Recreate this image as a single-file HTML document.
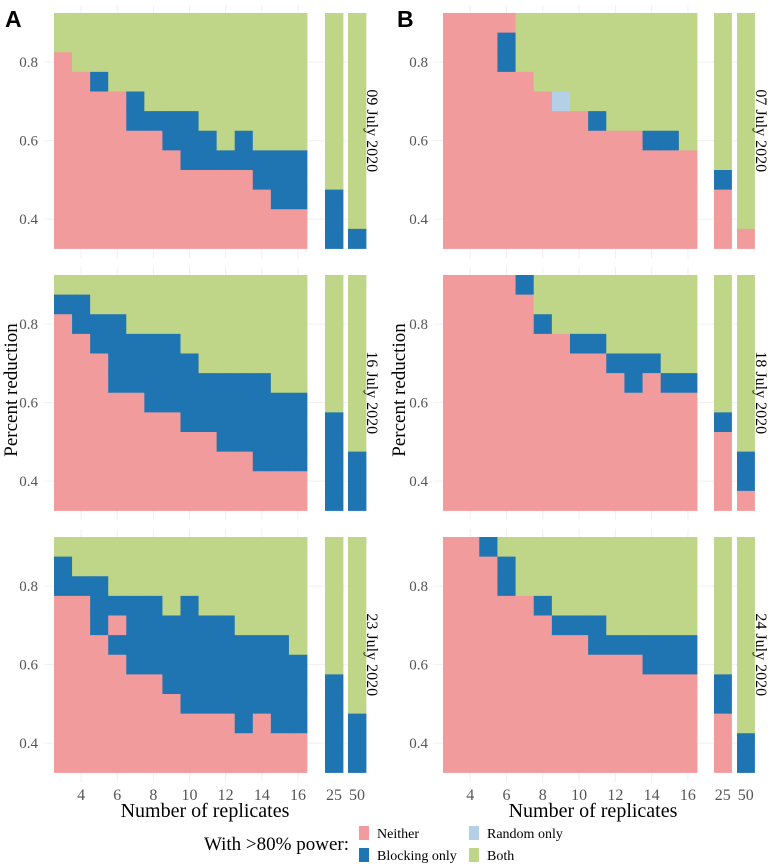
<!DOCTYPE html>
<html><head><meta charset="utf-8">
<style>
body{margin:0;background:#fff;}
svg{display:block;font-family:"Liberation Serif",serif;}
</style></head>
<body>
<svg id="chart" width="771" height="865" viewBox="0 0 771 865" xmlns="http://www.w3.org/2000/svg">
<text x="5" y="27" font-family="Liberation Sans, sans-serif" font-weight="bold" font-size="23">A</text>
<text x="397" y="27" font-family="Liberation Sans, sans-serif" font-weight="bold" font-size="23">B</text>
<text transform="translate(17,390) rotate(-90)" text-anchor="middle" font-size="19">Percent reduction</text>
<text transform="translate(405,390) rotate(-90)" text-anchor="middle" font-size="19">Percent reduction</text>
<text x="205" y="817" text-anchor="middle" font-size="20">Number of replicates</text>
<text x="593" y="817" text-anchor="middle" font-size="20">Number of replicates</text>
<g>
<text x="349" y="850" text-anchor="end" font-size="19">With &gt;80% power:</text>
<rect x="359" y="826" width="10" height="14" fill="#f29b9c"/>
<text x="377" y="838" font-size="14">Neither</text>
<rect x="359" y="848" width="10" height="14" fill="#1f74b2"/>
<text x="377" y="860" font-size="14">Blocking only</text>
<rect x="469" y="826" width="10" height="14" fill="#b3d0e6"/>
<text x="487" y="838" font-size="14">Random only</text>
<rect x="469" y="848" width="10" height="14" fill="#bfd587"/>
<text x="487" y="860" font-size="14">Both</text>
</g>
</svg>
<script>
const replicates = [3,4,5,6,7,8,9,10,11,12,13,14,15,16];
const extraReplicates = [25,50];
const reductions = [0.90,0.85,0.80,0.75,0.70,0.65,0.60,0.55,0.50,0.45,0.40,0.35];
const xTicks = [4,6,8,10,12,14,16];
const yTicks = [0.4,0.6,0.8];
const dates = ["09 July 2020","07 July 2020","16 July 2020","18 July 2020","23 July 2020","24 July 2020"];
// each string: class per reduction level, top (0.90) to bottom (0.35); N=neither B=blocking R=random G=both
const a1 = ["GGNNNNNNNNNN","GGGNNNNNNNNN","GGGBNNNNNNNN","GGGGNNNNNNNN","GGGGBBNNNNNN","GGGGGBNNNNNN","GGGGGBBNNNNN","GGGGGBBBNNNN","GGGGGGBBNNNN","GGGGGGGBNNNN","GGGGGGBBNNNN","GGGGGGGBBNNN","GGGGGGGBBBNN","GGGGGGGBBBNN","GGGGGGGGGBBB","GGGGGGGGGGGB"];
const b1 = ["NNNNNNNNNNNN","NNNNNNNNNNNN","NNNNNNNNNNNN","NBBNNNNNNNNN","GGGNNNNNNNNN","GGGGNNNNNNNN","GGGGRNNNNNNN","GGGGGNNNNNNN","GGGGGBNNNNNN","GGGGGGNNNNNN","GGGGGGNNNNNN","GGGGGGBNNNNN","GGGGGGBNNNNN","GGGGGGGNNNNN","GGGGGGGGBNNN","GGGGGGGGGGGN"];
const a2 = ["GBNNNNNNNNNN","GBBNNNNNNNNN","GGBBNNNNNNNN","GGBBBBNNNNNN","GGGBBBNNNNNN","GGGBBBBNNNNN","GGGBBBBNNNNN","GGGGBBBBNNNN","GGGGGBBBNNNN","GGGGGBBBBNNN","GGGGGBBBBNNN","GGGGGBBBBBNN","GGGGGGBBBBNN","GGGGGGBBBBNN","GGGGGGGBBBBB","GGGGGGGGGBBB"];
const b2 = ["NNNNNNNNNNNN","NNNNNNNNNNNN","NNNNNNNNNNNN","NNNNNNNNNNNN","BNNNNNNNNNNN","GGBNNNNNNNNN","GGGNNNNNNNNN","GGGBNNNNNNNN","GGGBNNNNNNNN","GGGGBNNNNNNN","GGGGBBNNNNNN","GGGGBNNNNNNN","GGGGGBNNNNNN","GGGGGBNNNNNN","GGGGGGGBNNNN","GGGGGGGGGBBN"];
const a3 = ["GBBNNNNNNNNN","GGBNNNNNNNNN","GGBBBNNNNNNN","GGGBNBNNNNNN","GGGBBBBNNNNN","GGGBBBBNNNNN","GGGGBBBBNNNN","GGGBBBBBBNNN","GGGGBBBBBNNN","GGGGBBBBBNNN","GGGGGBBBBBNN","GGGGGBBBBNNN","GGGGGBBBBBNN","GGGGGGBBBBNN","GGGGGGGBBBBB","GGGGGGGGGBBB"];
const b3 = ["NNNNNNNNNNNN","NNNNNNNNNNNN","BNNNNNNNNNNN","GBBNNNNNNNNN","GGGNNNNNNNNN","GGGBNNNNNNNN","GGGGBNNNNNNN","GGGGBNNNNNNN","GGGGBBNNNNNN","GGGGGBNNNNNN","GGGGGBNNNNNN","GGGGGBBNNNNN","GGGGGBBNNNNN","GGGGGBBNNNNN","GGGGGGGBBNNN","GGGGGGGGGGBB"];
const panelData = [a1,b1,a2,b2,a3,b3];

const colors = {N:"#f29b9c",B:"#1f74b2",R:"#b3d0e6",G:"#bfd587"};
const names = {N:"neither",B:"blocking-only",R:"random-only",G:"both"};
const NS = "http://www.w3.org/2000/svg";
const svg = document.getElementById('chart');
const rowTops = [13,275,537];
const PH = 235.5;
const colLefts = [{main:54,w:253,s1:325,s2:348,sw:18,lab:372,tick:38},{main:443,w:254,s1:714,s2:737,sw:17.5,lab:761,tick:428}];
function mk(tag, attrs, parent){const e=document.createElementNS(NS,tag);for(const k in attrs)e.setAttribute(k,attrs[k]);(parent||svg).appendChild(e);return e;}
function yScale(top,v){return top + (0.925 - v)/0.6*PH;}
function xScale(L,r){return L.main + (r - 2.5)/14*L.w;}

panelData.forEach((pd,pi)=>{
  const row = Math.floor(pi/2), L = colLefts[pi%2], top = rowTops[row];
  const g = mk('g',{});
  
  
  xTicks.forEach(t=>{const gl=mk('line',{x1:xScale(L,t),x2:xScale(L,t),y1:top-8,y2:top+PH+10,stroke:'#f0f0f0','stroke-width':1},g);
    });
  yTicks.forEach(t=>{const gl=mk('line',{x1:L.main-10,x2:L.s2+L.sw,y1:yScale(top,t),y2:yScale(top,t),stroke:'#f0f0f0','stroke-width':1},g);
    });
  const cellH = 0.05/0.6*PH;
  pd.forEach((col,ci)=>{
    let x,w;
    if(ci<replicates.length){x=xScale(L,replicates[ci]-0.5);w=xScale(L,replicates[ci]+0.5)-x;}
    else {x = ci===replicates.length ? L.s1 : L.s2; w=L.sw;}
    reductions.forEach((v,ri)=>{
      const c = col[ri];
      const r = mk('rect',{x:x,y:yScale(top,v+0.025),width:w+0.4,height:cellH+0.4,fill:colors[c]},g);
      
      
    });
  });
  yTicks.forEach(t=>{
    const tx = mk('text',{x:L.tick,y:yScale(top,t)+5,'text-anchor':'end','font-size':15,fill:'#555'},g);
    tx.textContent = t.toFixed(1);
    
    
  });
  const lab = mk('text',{transform:`translate(${L.lab-5},${top+PH/2}) rotate(90)`,'text-anchor':'middle','font-size':16},g);
  lab.textContent = dates[pi];
  
  
  if(row===2){
    xTicks.forEach(t=>{
      const tx=mk('text',{x:xScale(L,t),y:800,'text-anchor':'middle','font-size':16,fill:'#555'},g);
      tx.textContent=t;
      
      
    });
    extraReplicates.forEach((t,i)=>{
      const tx=mk('text',{x:(i===0?L.s1:L.s2)+L.sw/2,y:800,'text-anchor':'middle','font-size':16,fill:'#555'},g);
      tx.textContent=t;
      
      
    });
  }
});
</script>
</body></html>
